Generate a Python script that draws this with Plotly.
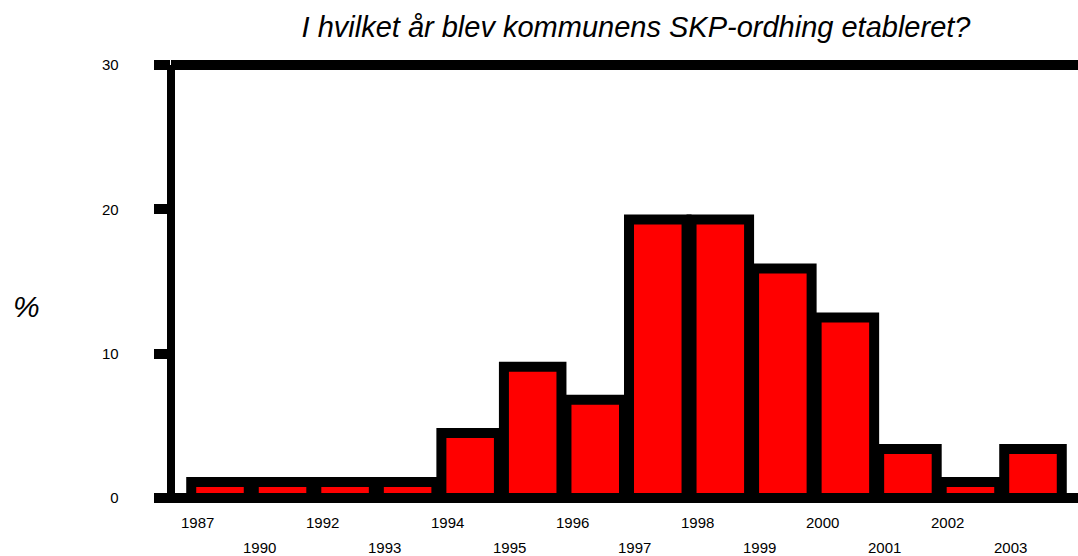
import plotly.graph_objects as go

# Year the municipal SKP scheme was established (share of municipalities, %)
years = ["1987", "1990", "1992", "1993", "1994", "1995", "1996",
         "1997", "1998", "1999", "2000", "2001", "2002", "2003"]
percent = [1.1, 1.1, 1.1, 1.1, 4.5, 9.1, 6.8,
           19.3, 19.3, 15.9, 12.5, 3.4, 1.1, 3.4]
y_ticks = [0, 10, 20, 30]

title_text = "I hvilket år blev kommunens SKP-ordhing etableret?"
y_title = "%"

FONT = "Liberation Sans, Arial, sans-serif"

W, H = 1078, 556
L, R, T, B = 171, 0, 65, 58
plot_w, plot_h = W - L - R, H - T - B

idx = list(range(len(years)))

fig = go.Figure(
    go.Bar(
        x=idx,
        y=percent,
        marker=dict(color="#ff0000", line=dict(color="#000000", width=10)),
        hoverinfo="skip",
    )
)

# year labels in two staggered rows beneath the bars
annotations = []
for i, yr in enumerate(years):
    annotations.append(dict(
        x=i, y=0, xref="x", yref="paper",
        text=yr, showarrow=False,
        xanchor="center", yanchor="middle",
        xshift=-23, yshift=-24 if i % 2 == 0 else -49,
        font=dict(family=FONT, size=15, color="#000000"),
    ))

# axis title "%" placed to the left of the frame
annotations.append(dict(
    x=(26 - L) / plot_w, y=(H - B - 306) / plot_h, xref="paper", yref="paper",
    text=y_title, showarrow=False, xanchor="center", yanchor="middle",
    font=dict(family=FONT, size=30, color="#000000", style="italic"),
))

# heavy frame: baseline, top rule and left axis, centred on the range limits
frame = dict(type="line", xref="paper", yref="paper", layer="above",
             line=dict(color="#000000"))
shapes = [
    dict(frame, x0=0, x1=1 + 10 / plot_w, y0=0, y1=0, line=dict(color="#000000", width=10)),
    dict(frame, x0=0, x1=1 + 10 / plot_w, y0=1, y1=1, line=dict(color="#000000", width=10)),
    dict(frame, x0=0, x1=0, y0=-5 / plot_h, y1=1, line=dict(color="#000000", width=8)),
]

fig.update_layout(
    width=W, height=H,
    margin=dict(l=L, r=R, t=T, b=B, pad=0),
    paper_bgcolor="#ffffff", plot_bgcolor="#ffffff",
    bargap=0.08,
    showlegend=False,
    title=dict(
        text=title_text, x=636 / W, xanchor="center", y=1 - 27 / H, yanchor="middle",
        font=dict(family=FONT, size=29, color="#000000", style="italic"),
    ),
    xaxis=dict(
        range=[-(220 - L) / 62.54, 13 + (W - 1033) / 62.54],
        showticklabels=False, ticks="",
        showgrid=False, zeroline=False, showline=False,
    ),
    yaxis=dict(
        range=[0, 30], tickvals=y_ticks, ticktext=[f"{v}  " for v in y_ticks],
        ticks="outside", ticklen=16, tickwidth=10, tickcolor="#000000",
        ticklabelstandoff=24,
        tickfont=dict(family=FONT, size=15, color="#000000"),
        showgrid=False, zeroline=False, showline=False,
    ),
    annotations=annotations,
    shapes=shapes,
)

fig.write_html("out.html")
